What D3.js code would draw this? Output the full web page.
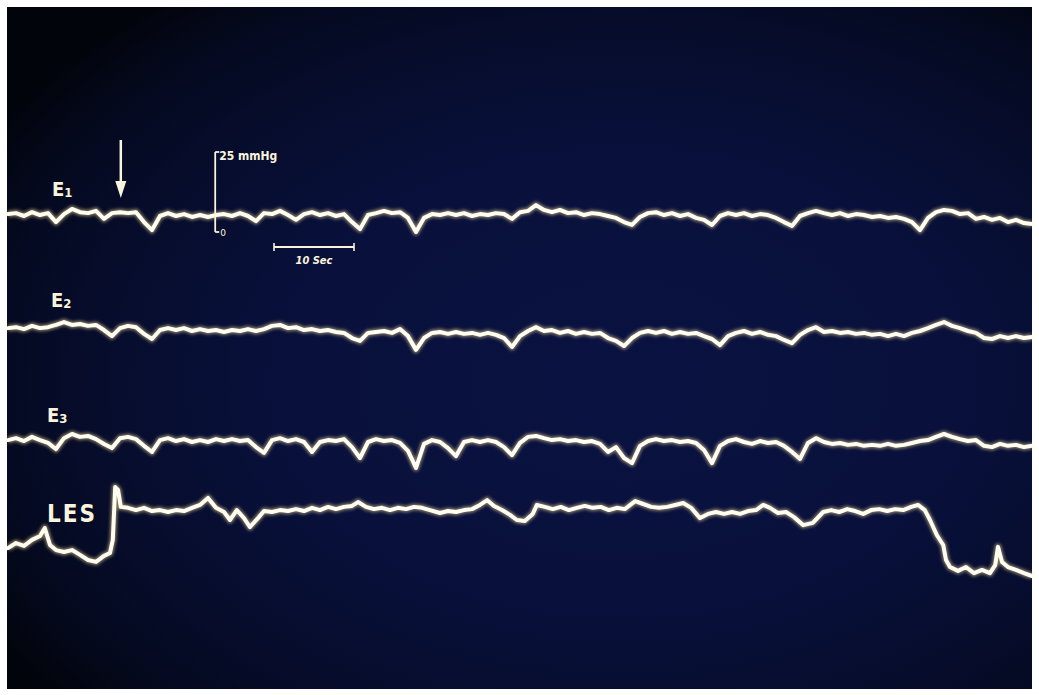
<!DOCTYPE html>
<html>
<head>
<meta charset="utf-8">
<script src="https://cdn.jsdelivr.net/npm/d3@7"></script>
<style>
  html, body { margin: 0; padding: 0; background: #ffffff; }
  svg { display: block; }
</style>
</head>
<body>
<script>
const width = 1039;
const height = 695;

// temps en secondes, un point par seconde pour E1, E2, E3
const seconds = d3.range(0, 129);

// pressions en mmHg (0 = ligne de base de chaque canal)
const e1 = [
  5.6, 5.9, 5.0, 6.2, 5.3, 5.9, 3.1, 5.6, 7.2, 6.2, 5.9, 6.6, 4.1, 5.9, 6.2, 5.9,
  6.2, 3.1, 0.6, 5.0, 5.9, 5.0, 5.6, 4.7, 5.3, 4.7, 5.3, 5.6, 5.0, 5.9, 5.0, 3.4,
  5.9, 5.6, 6.6, 5.3, 3.8, 5.6, 6.2, 5.3, 5.9, 5.0, 5.6, 3.1, 0.9, 5.3, 5.9, 6.6,
  5.9, 6.2, 4.4, 0.0, 4.4, 5.6, 5.3, 5.9, 5.3, 5.9, 5.0, 5.6, 5.3, 5.9, 5.6, 4.1,
  6.2, 6.6, 8.4, 6.9, 6.2, 6.9, 5.9, 6.2, 5.3, 5.9, 5.6, 5.0, 4.4, 3.1, 2.2, 4.7,
  5.9, 6.2, 5.3, 5.9, 5.0, 5.6, 4.4, 3.8, 2.2, 5.0, 5.9, 5.3, 5.9, 5.0, 5.6, 5.3,
  4.4, 3.1, 1.9, 5.0, 5.9, 6.6, 5.9, 5.3, 5.9, 5.0, 5.6, 5.3, 4.7, 5.0, 4.4, 4.7,
  4.1, 3.1, 0.6, 4.4, 6.2, 6.9, 6.6, 5.6, 5.9, 4.1, 4.7, 3.8, 4.4, 3.1, 3.8, 2.8,
  2.5
];

const e2 = [
  5.9, 6.2, 5.6, 6.6, 5.9, 6.2, 6.9, 7.8, 6.9, 7.2, 6.6, 6.9, 5.3, 3.4, 5.9, 6.6,
  6.2, 4.1, 2.5, 5.3, 5.9, 5.3, 5.9, 5.0, 5.6, 5.0, 5.3, 4.7, 5.3, 5.0, 5.6, 5.0,
  5.6, 6.6, 6.9, 5.9, 6.2, 5.3, 5.6, 5.0, 5.3, 4.7, 4.4, 2.8, 1.9, 4.4, 4.7, 5.0,
  4.4, 5.6, 3.4, -0.9, 2.8, 4.4, 4.7, 4.1, 4.7, 4.1, 4.4, 3.8, 4.4, 3.8, 2.8, 0.0,
  3.4, 5.0, 6.2, 5.0, 5.3, 4.4, 5.0, 4.1, 4.7, 4.1, 4.4, 2.8, 1.9, 0.3, 2.8, 4.4,
  5.0, 4.4, 5.0, 4.1, 4.7, 4.1, 4.4, 3.4, 2.5, 0.6, 3.4, 4.4, 5.0, 4.1, 4.7, 3.8,
  3.4, 2.2, 1.2, 3.8, 5.3, 6.2, 4.7, 5.0, 4.4, 4.7, 4.1, 4.4, 3.8, 4.1, 3.4, 4.1,
  3.4, 4.4, 5.0, 5.9, 6.9, 7.8, 6.6, 5.9, 5.0, 4.4, 2.8, 2.5, 3.4, 2.8, 3.4, 2.8,
  3.1
];

const e3 = [
  5.6, 6.2, 5.3, 6.6, 5.6, 4.7, 2.8, 6.2, 7.5, 6.6, 6.9, 5.9, 4.4, 3.1, 6.2, 6.6,
  5.9, 3.8, 1.9, 5.6, 6.2, 5.3, 5.9, 5.0, 5.6, 5.0, 5.9, 5.3, 5.9, 5.3, 5.6, 3.4,
  1.6, 5.6, 6.2, 5.3, 5.9, 5.0, 1.9, 5.0, 5.6, 5.3, 5.9, 3.4, 0.0, 5.0, 5.9, 5.3,
  5.6, 4.7, 2.2, -3.1, 4.4, 5.6, 5.0, 3.1, 0.6, 5.0, 5.6, 5.0, 5.6, 5.0, 3.4, 0.9,
  4.7, 6.6, 6.9, 6.2, 5.6, 5.9, 5.3, 5.6, 5.0, 5.3, 4.4, 1.9, 3.4, 0.0, -1.6, 3.8,
  5.3, 5.9, 5.3, 5.6, 5.0, 5.3, 4.7, 2.5, -1.6, 3.8, 5.3, 5.9, 5.0, 4.4, 5.3, 4.7,
  5.0, 3.8, 1.9, -0.3, 4.7, 6.2, 5.0, 4.4, 4.7, 4.1, 4.4, 3.8, 4.1, 3.8, 4.4, 3.8,
  4.1, 4.7, 5.3, 5.6, 6.6, 7.5, 6.6, 5.9, 5.3, 5.6, 3.8, 3.4, 4.4, 3.8, 4.1, 3.4,
  3.8
];

// sphincter : échantillonnage irrégulier (montée brutale, relaxation)
const lesSeconds = [
  0, 1, 2, 3, 4, 4.6, 5.25, 6, 7, 8, 9, 10, 11, 12, 12.75, 13.1, 13.4, 13.75, 14.1,
  15, 16, 17, 18, 19, 20, 21, 22, 23, 24, 25, 26, 27, 27.75, 28.6, 29.5, 30.25,
  31.25, 32, 33, 34, 35, 36, 37, 38, 39, 40, 41, 42, 43, 43.75, 44.75, 45.75, 46.75,
  47.75, 48.75, 49.75, 50.75, 51.75, 52.75, 54, 55, 56, 57, 58, 59, 59.9, 60.75,
  61.75, 62.75, 63.6, 64.6, 65.6, 66.1, 67.1, 68.1, 69.1, 70.1, 71.1, 72.1, 73.1,
  74.1, 75.1, 76.1, 77.1, 78.4, 79.4, 80.4, 81.4, 82.4, 83.4, 84.4, 85.4, 86.5,
  87.5, 88.5, 89.5, 90.5, 91.5, 92.5, 93.5, 94.4, 95.25, 96.25, 97.25, 98.25, 99.4,
  100.6, 101.9, 102.9, 103.9, 104.9, 105.9, 106.9, 107.9, 108.9, 109.9, 110.9,
  111.9, 112.9, 113.75, 114.6, 115.25, 116.1, 116.9, 117.25, 117.75, 118.75,
  119.75, 120.75, 121.75, 122.75, 123.4, 123.75, 124.25, 125, 126, 127, 128
];
const les = [
  16.2, 17.8, 16.9, 18.8, 20.0, 22.5, 17.2, 15.6, 15.0, 15.6, 14.1, 12.5, 11.9, 13.8,
  14.7, 18.8, 35.3, 34.4, 29.1,
  28.8, 28.1, 28.8, 27.8, 28.1, 27.5, 28.1, 27.8, 28.8, 29.7, 31.9, 28.8, 27.5, 25.0,
  28.1, 25.6, 22.8,
  25.6, 27.8, 27.5, 28.1, 27.8, 28.4, 27.8, 28.8, 28.1, 29.1, 28.4, 29.1, 29.4, 30.6,
  29.1, 28.4, 28.8,
  28.1, 28.8, 28.4, 29.1, 28.8, 28.1, 27.2, 27.8, 27.5, 28.1, 28.4, 29.7, 31.2, 29.4,
  28.1, 26.6, 25.0, 24.7, 26.9, 29.7, 29.1, 28.4, 29.1, 28.1, 28.8, 29.4, 28.8,
  29.1, 28.1, 28.8, 28.4, 30.9, 30.0, 29.1, 28.8, 29.1, 29.7, 30.3, 28.8, 25.6,
  26.9, 27.5, 26.9, 27.5, 26.9, 27.8, 28.1, 29.7, 28.8, 27.2, 27.5, 25.9, 23.4,
  24.1, 27.5, 28.1, 27.5, 28.4, 27.8, 26.9, 28.1, 28.4, 27.8, 28.4,
  28.1, 29.1, 29.7, 28.1, 25.0, 20.3, 17.2, 12.5, 10.3, 9.1,
  10.3, 8.4, 9.4, 8.4, 10.9, 16.6, 11.9, 10.3, 9.4, 8.4, 7.5
];

const channelNames = ['E', 'E', 'E', 'LES'];
const channelIndex = ['1', '2', '3', ''];

const svg = d3.select('body').append('svg')
  .attr('width', width)
  .attr('height', height);

const defs = svg.append('defs');
const bg = defs.append('radialGradient')
  .attr('id', 'bg')
  .attr('cx', '60%').attr('cy', '55%').attr('r', '72%');
bg.append('stop').attr('offset', '0%').attr('stop-color', '#0a1242');
bg.append('stop').attr('offset', '50%').attr('stop-color', '#08103a');
bg.append('stop').attr('offset', '85%').attr('stop-color', '#050a22');
bg.append('stop').attr('offset', '100%').attr('stop-color', '#02040b');

const glow = defs.append('filter').attr('id', 'glow')
  .attr('x', '-5%').attr('y', '-50%').attr('width', '110%').attr('height', '200%');
glow.append('feGaussianBlur').attr('stdDeviation', 1.5);

// le fond de la photo
svg.append('rect')
  .attr('x', 7).attr('y', 7)
  .attr('width', 1025).attr('height', 682)
  .attr('fill', 'url(#bg)');

const x = d3.scaleLinear().domain([0, 128]).range([8, 1032]);

// un zéro par canal, 25 mmHg = 80 px
const zeros = [232, 347, 458, 600];
const yScales = zeros.map(z => d3.scaleLinear().domain([0, 25]).range([z, z - 80]));

const series = [
  seconds.map((t, i) => [t, e1[i]]),
  seconds.map((t, i) => [t, e2[i]]),
  seconds.map((t, i) => [t, e3[i]]),
  lesSeconds.map((t, i) => [t, les[i]])
];

const traces = svg.append('g');
series.forEach((s, k) => {
  const line = d3.line()
    .x(d => x(d[0]))
    .y(d => yScales[k](d[1]))
    .curve(d3.curveLinear);
  traces.append('path')
    .attr('d', line(s))
    .attr('fill', 'none')
    .attr('stroke', '#f0d890')
    .attr('stroke-opacity', 0.5)
    .attr('stroke-width', 7)
    .attr('stroke-linejoin', 'round')
    .attr('filter', 'url(#glow)');
  traces.append('path')
    .attr('d', line(s))
    .attr('fill', 'none')
    .attr('stroke', '#fffdf2')
    .attr('stroke-width', 4)
    .attr('stroke-linejoin', 'round')
    .attr('stroke-linecap', 'round');
});

// noms des canaux
const labelPos = [[52, 196], [51, 307], [47, 422], [47, 522]];
const labels = svg.append('g')
  .attr('fill', '#fbf4dc')
  .attr('font-family', 'DejaVu Sans Condensed, DejaVu Sans, sans-serif')
  .attr('font-weight', 'bold');
labelPos.forEach((p, i) => {
  const t = labels.append('text')
    .attr('x', p[0]).attr('y', p[1])
    .attr('font-size', i === 3 ? 24 : 20)
    .attr('letter-spacing', i === 3 ? 2 : 0)
    .text(channelNames[i]);
  if (channelIndex[i]) {
    t.append('tspan')
      .attr('font-size', 13)
      .attr('dy', 1)
      .text(channelIndex[i]);
  }
});

const ink = '#fbf4dc';

// flèche (déglutition)
const tArrow = 14.1;
svg.append('line')
  .attr('x1', x(tArrow)).attr('x2', x(tArrow))
  .attr('y1', 140).attr('y2', 188)
  .attr('stroke', ink).attr('stroke-width', 2.5);
svg.append('path')
  .attr('d', `M${x(tArrow) - 5.5},181 L${x(tArrow) + 5.5},181 L${x(tArrow)},198 Z`)
  .attr('fill', ink);

// étalonnage 25 mmHg sur E1
const tCal = 25.9;
const yE1 = yScales[0];
svg.append('line')
  .attr('x1', x(tCal)).attr('x2', x(tCal))
  .attr('y1', yE1(0)).attr('y2', yE1(25))
  .attr('stroke', ink).attr('stroke-width', 1.8);
svg.append('line')
  .attr('x1', x(tCal)).attr('x2', x(tCal) + 4)
  .attr('y1', yE1(25)).attr('y2', yE1(25))
  .attr('stroke', ink).attr('stroke-width', 1.8);
svg.append('line')
  .attr('x1', x(tCal)).attr('x2', x(tCal) + 4)
  .attr('y1', yE1(0)).attr('y2', yE1(0))
  .attr('stroke', ink).attr('stroke-width', 1.8);
svg.append('text')
  .attr('x', x(tCal) + 4).attr('y', yE1(25) + 8)
  .attr('fill', ink)
  .attr('font-family', 'DejaVu Sans Condensed, sans-serif')
  .attr('font-size', 12)
  .attr('font-weight', 'bold')
  .text('25 mmHg');
svg.append('text')
  .attr('x', x(tCal) + 5).attr('y', yE1(0) + 4)
  .attr('fill', ink)
  .attr('font-family', 'DejaVu Sans, sans-serif')
  .attr('font-size', 9)
  .text('0');

// barre de temps 10 s
const t0 = 33.25;
const ySec = 247;
svg.append('line')
  .attr('x1', x(t0)).attr('x2', x(t0 + 10))
  .attr('y1', ySec).attr('y2', ySec)
  .attr('stroke', ink).attr('stroke-width', 2);
[t0, t0 + 10].forEach(t => {
  svg.append('line')
    .attr('x1', x(t)).attr('x2', x(t))
    .attr('y1', ySec - 4).attr('y2', ySec + 4)
    .attr('stroke', ink).attr('stroke-width', 1.6);
});
svg.append('text')
  .attr('x', x(t0 + 5)).attr('y', ySec + 17)
  .attr('text-anchor', 'middle')
  .attr('fill', ink)
  .attr('font-family', 'DejaVu Sans Condensed, sans-serif')
  .attr('font-size', 11)
  .attr('font-weight', 'bold')
  .attr('font-style', 'italic')
  .text('10 Sec');
</script>
</body>
</html>
